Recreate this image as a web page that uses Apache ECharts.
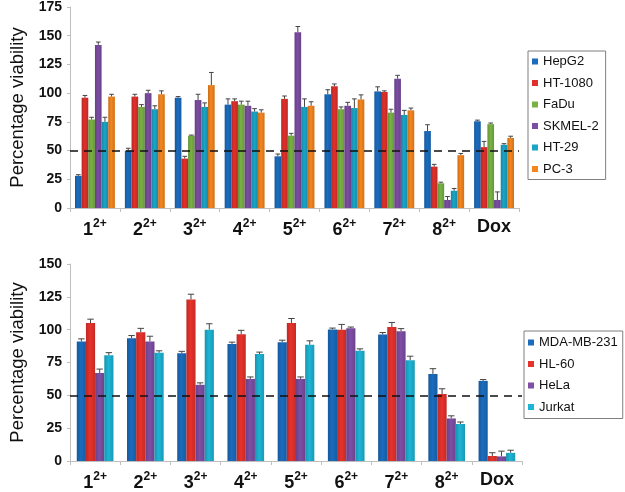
<!DOCTYPE html>
<html><head><meta charset="utf-8">
<script src="https://cdn.jsdelivr.net/npm/echarts@6/dist/echarts.min.js"></script>
<style>html,body{margin:0;padding:0;background:#fff}#c{width:625px;height:492px}</style>
</head><body><div id="c"></div>
<script>
const categories = ['1','2','3','4','5','6','7','8','Dox'];
const yTicksTop = [0,25,50,75,100,125,150,175];
const yTicksBottom = [0,25,50,75,100,125,150];

const topNames = ['HepG2','HT-1080','FaDu','SKMEL-2','HT-29','PC-3'];
const HepG2   = [28, 50, 96, 90, 45, 99, 101.5, 67, 75.5];
const HT1080  = [96, 97, 43, 93, 95, 106, 101, 36, 53];
const FaDu    = [77, 88, 63, 90, 63, 86, 83, 21.5, 73];
const SKMEL2  = [142, 100, 94, 89, 153, 89, 112.5, 7, 7];
const HT29    = [75, 86, 88, 84, 88, 87, 81, 15, 55];
const PC3     = [97, 99, 107, 83, 89, 94.5, 85, 46, 61];
const HepG2Err  = [1, 2, 1, 5, 2, 4, 4, 5.5, 1];
const HT1080Err = [2, 2, 2, 2, 2.5, 2, 1, 2, 5];
const FaDuErr   = [2, 2, 0.5, 3, 2, 2, 3, 1, 1];
const SKMEL2Err = [2.5, 2.5, 5, 4, 5, 3, 3, 3, 7];
const HT29Err   = [4, 3, 3.5, 2.5, 7, 8, 4, 2, 1];
const PC3Err    = [2, 3, 11, 2.5, 3.5, 4, 2, 1.5, 1.5];

const bottomNames = ['MDA-MB-231','HL-60','HeLa','Jurkat'];
const MDA    = [91, 93.5, 82, 89, 90.5, 100.2, 96.3, 66.3, 61];
const HL60   = [105, 98, 123, 96.5, 105, 100, 102, 51, 3.8];
const HeLa   = [67, 91, 58, 62.5, 62.5, 101, 98.8, 32.4, 3.5];
const Jurkat = [80.5, 82.4, 100, 81.4, 88.5, 83.9, 76.8, 28.2, 6.2];
const MDAErr    = [2, 2, 1.5, 1.5, 1.5, 1, 1.5, 4, 1];
const HL60Err   = [3, 3, 4, 3, 3.5, 4, 3.5, 4, 2.5];
const HeLaErr   = [3, 4, 1.5, 1.5, 1.5, 1, 2, 2, 4];
const JurkatErr = [2, 1.5, 4.5, 1.5, 3, 1.5, 3, 1.5, 2];

const topVals = [HepG2, HT1080, FaDu, SKMEL2, HT29, PC3];
const topErrs = [HepG2Err, HT1080Err, FaDuErr, SKMEL2Err, HT29Err, PC3Err];
const topColors = ['#1b6cbf','#e0302b','#79b244','#7c4da2','#1ba4c6','#f5861f'];
const botVals = [MDA, HL60, HeLa, Jurkat];
const botErrs = [MDAErr, HL60Err, HeLaErr, JurkatErr];
const botColors = ['#1b6cbf','#e8322c','#7f4fa6','#1db5d6'];

const FONT = '"Liberation Sans", Arial, sans-serif';

function shade(hex, f) {
  const n = parseInt(hex.slice(1), 16);
  let r = (n >> 16) & 255, g = (n >> 8) & 255, b = n & 255;
  r = Math.round(r * f); g = Math.round(g * f); b = Math.round(b * f);
  return 'rgb(' + Math.min(255,r) + ',' + Math.min(255,g) + ',' + Math.min(255,b) + ')';
}
function grad(c) {
  return {type:'linear', x:0, y:0, x2:1, y2:0, colorStops:[
    {offset:0, color:shade(c,0.82)}, {offset:0.45, color:c}, {offset:1, color:shade(c,0.85)}]};
}

function xAxisCfg(gi) {
  return {
    type:'category', gridIndex:gi, data:categories,
    axisLine:{lineStyle:{color:'#bfbfbf', width:1}},
    axisTick:{show:true, alignWithLabel:false, interval:0, length:4, lineStyle:{color:'#bfbfbf'}},
    axisLabel:{
      margin:10, interval:0,
      formatter: v => v === 'Dox' ? '{b|Dox}' : '{b|' + v + '}{s|2+}',
      rich:{
        b:{fontFamily:FONT, fontSize:18, fontWeight:'bold', color:'#111'},
        s:{fontFamily:FONT, fontSize:12, fontWeight:'bold', color:'#111', padding:[0,0,12,0]}
      }
    },
    splitLine:{show:false}
  };
}
function yAxisCfg(gi, ticks) {
  return {
    type:'value', gridIndex:gi, min:ticks[0], max:ticks[ticks.length-1], interval:25,
    name:'Percentage viability', nameLocation:'middle', nameGap:43,
    nameTextStyle:{fontFamily:FONT, fontSize:18.5, color:'#111'},
    axisLine:{show:true, lineStyle:{color:'#bfbfbf'}},
    axisTick:{show:true, length:3, lineStyle:{color:'#bfbfbf'}},
    axisLabel:{fontFamily:FONT, fontSize:14, fontWeight:'bold', color:'#111', margin:8},
    splitLine:{show:false}
  };
}

function errSeries(gi, idx, n, vals, errs, catGap) {
  const data = vals.map((v, i) => [i, v, errs[i]]);
  return {
    type:'custom', xAxisIndex:gi, yAxisIndex:gi, silent:true, z:5,
    data: data,
    encode:{x:0, y:1},
    renderItem: function(params, api) {
      const ci = api.value(0), v = api.value(1), e = api.value(2);
      const base = api.coord([ci, v]);
      const top = api.coord([ci, v + e]);
      const band = api.size([1, 0])[0];
      const groupW = band * (1 - catGap);
      const bw = groupW / n;
      const x = base[0] - groupW / 2 + bw * (idx + 0.5);
      const cap = bw * 0.35;
      return {type:'group', children:[
        {type:'line', shape:{x1:x, y1:base[1], x2:x, y2:top[1]}, style:{stroke:'#444', lineWidth:1}},
        {type:'line', shape:{x1:x-cap, y1:top[1], x2:x+cap, y2:top[1]}, style:{stroke:'#444', lineWidth:1}}
      ]};
    }
  };
}

const series = [];
const TOPGAP = 0.2, BOTGAP = 0.27;
topNames.forEach((nm, i) => {
  const s = {
    name:nm, type:'bar', xAxisIndex:0, yAxisIndex:0, data:topVals[i],
    barGap:'0%', barCategoryGap:(TOPGAP*100)+'%',
    itemStyle:{color:grad(topColors[i])}
  };
  if (i === 0) s.markLine = {silent:true, symbol:'none', label:{show:false}, z:10,
    lineStyle:{color:'#111', type:[8,6], width:1.5}, data:[{yAxis:50}]};
  series.push(s);
});
bottomNames.forEach((nm, i) => {
  const s = {
    name:nm, type:'bar', xAxisIndex:1, yAxisIndex:1, data:botVals[i],
    barGap:'0%', barCategoryGap:(BOTGAP*100)+'%',
    itemStyle:{color:grad(botColors[i])}
  };
  if (i === 0) s.markLine = {silent:true, symbol:'none', label:{show:false}, z:10,
    lineStyle:{color:'#111', type:[8,6], width:1.5}, data:[{yAxis:50}]};
  series.push(s);
});
topNames.forEach((nm, i) => series.push(errSeries(0, i, 6, topVals[i], topErrs[i], TOPGAP)));
bottomNames.forEach((nm, i) => series.push(errSeries(1, i, 4, botVals[i], botErrs[i], BOTGAP)));

const legendCommon = {
  orient:'vertical', icon:'rect', itemWidth:6, itemHeight:6, itemGap:8.5,
  borderColor:'#7f7f7f', borderWidth:1, borderRadius:0,
  textStyle:{fontFamily:FONT, fontSize:13, color:'#111'}
};

const chart = echarts.init(document.getElementById('c'), null, {renderer:'canvas'});
chart.setOption({
  animation:false,
  backgroundColor:'#fff',
  color: topColors.concat(botColors),
  grid:[
    {left:60, top:7, width:459, height:201},
    {left:60, top:264, width:462, height:204.5}
  ],
  legend:[
    Object.assign({}, legendCommon, {left:528, top:51, padding:[4,7,4,4],
      data:topNames.map((n,i)=>({name:n, itemStyle:{color:topColors[i]}}))}),
    Object.assign({}, legendCommon, {left:524, top:331, padding:[5,5,5,4],
      data:bottomNames.map((n,i)=>({name:n, itemStyle:{color:botColors[i]}}))})
  ],
  xAxis:[xAxisCfg(0), xAxisCfg(1)],
  yAxis:[yAxisCfg(0, yTicksTop), yAxisCfg(1, yTicksBottom)],
  series: series
});
</script></body></html>
